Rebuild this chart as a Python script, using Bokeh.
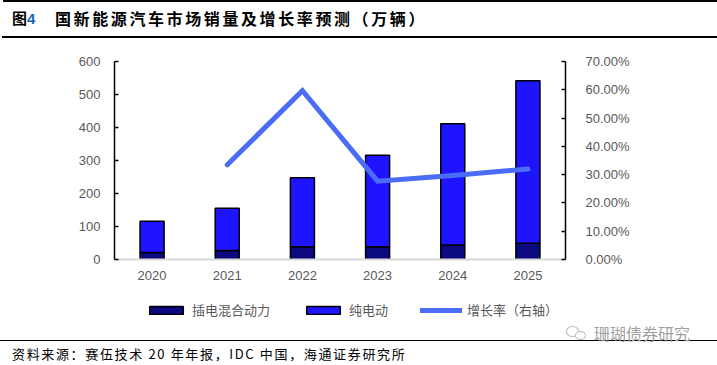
from bokeh.plotting import figure
from bokeh.layouts import column
from bokeh.models import (Range1d, FactorRange, LinearAxis, FixedTicker, NumeralTickFormatter,
                          Legend, LegendItem, ColumnDataSource, Div)
from bokeh.embed import file_html
from bokeh.resources import INLINE

# ---- data ----
years = ["2020", "2021", "2022", "2023", "2024", "2025"]
phev = [21, 27, 39, 39, 44, 49]          # 插电混合动力 (万辆)
bev = [95, 128, 209, 277, 367, 493]      # 纯电动 (万辆)
growth_years = ["2021", "2022", "2023", "2024", "2025"]
growth = [0.335, 0.597, 0.277, 0.297, 0.32]  # 增长率 (右轴)
left_ticks = [0, 100, 200, 300, 400, 500, 600]
right_ticks = [0.0, 0.1, 0.2, 0.3, 0.4, 0.5, 0.6, 0.7]
legend_labels = ["插电混合动力", "纯电动", "增长率（右轴）"]

title_prefix = "图"
title_num = "4"
title_main = "国新能源汽车市场销量及增长率预测（万辆）"
source_text = "资料来源：赛伍技术 20 年年报，IDC 中国，海通证券研究所"
watermark = "珊瑚债券研究"

W = 717
BL, BR = 114, 152          # left / right borders around the plot frame
FW, FH = W - BL - BR, 198  # frame size
CJK = "Noto Sans CJK SC"
LAT = "Liberation Sans"
GRAY = "#595959"
C_PHEV = "#0b0880"
C_BEV = "#1f14ff"
C_LINE = "#4a6cf6"

# ---- header (HTML) ----
header_html = f"""
<div style="position:relative;width:{W}px;height:40px;">
  <div style="position:absolute;left:3px;top:0px;width:{W-3}px;height:1.5px;background:#000;"></div>
  <div style="position:absolute;left:12px;top:8px;font-family:'{CJK}';font-weight:bold;
       font-size:15px;line-height:20px;white-space:nowrap;color:#000;">{title_prefix}<span
       style="font-family:'{LAT}';color:#1f5fbf;">{title_num}</span></div>
  <div style="position:absolute;left:55px;top:8px;font-family:'{CJK}';font-weight:bold;
       font-size:16px;line-height:20px;letter-spacing:2.6px;white-space:nowrap;color:#000;">{title_main}</div>
  <div style="position:absolute;left:2px;top:36px;width:{W-2}px;height:2px;background:#000;"></div>
</div>"""
header = Div(text=header_html, width=W, height=40, margin=(0, 0, 0, 0))

# ---- main chart ----
src = ColumnDataSource(dict(year=years, phev=phev, bev=bev))
p = figure(frame_width=FW, frame_height=FH, output_backend="svg", toolbar_location=None,
           x_range=FactorRange(*years), y_range=Range1d(0, 600),
           min_border_left=BL, min_border_right=BR, min_border_top=21, min_border_bottom=31,
           margin=(0, 0, 0, 0))
p.outline_line_color = None
p.grid.visible = False
p.extra_y_ranges = {"pct": Range1d(0, 0.7)}

p.vbar_stack(["phev", "bev"], x="year", width=0.32, source=src,
             color=[C_PHEV, C_BEV], line_color="black", line_width=1.5)
p.line(x=growth_years, y=growth, y_range_name="pct", line_color=C_LINE,
       line_width=5, line_cap="round", line_join="miter")

ya = p.yaxis[0]
ya.ticker = FixedTicker(ticks=left_ticks)
ya.axis_line_color = "black"
ya.axis_line_width = 1.5
ya.major_tick_in = 4
ya.major_tick_out = 0
ya.major_tick_line_color = "black"
ya.major_tick_line_width = 1.5
ya.minor_tick_line_color = None
ya.major_label_text_font = LAT
ya.major_label_text_font_size = "13px"
ya.major_label_text_color = GRAY
ya.major_label_standoff = 14

ra = LinearAxis(y_range_name="pct", ticker=FixedTicker(ticks=right_ticks),
                formatter=NumeralTickFormatter(format="0.00%"))
ra.axis_line_color = "black"
ra.axis_line_width = 1.5
ra.major_tick_in = 4
ra.major_tick_out = 0
ra.major_tick_line_color = "black"
ra.major_tick_line_width = 1.5
ra.minor_tick_line_color = None
ra.major_label_text_font = LAT
ra.major_label_text_font_size = "13px"
ra.major_label_text_color = GRAY
ra.major_label_standoff = 20
p.add_layout(ra, "right")

xa = p.xaxis[0]
xa.axis_line_color = "#d9d9d9"
xa.axis_line_width = 2
xa.major_tick_line_color = None
xa.minor_tick_line_color = None
xa.major_label_text_font = LAT
xa.major_label_text_font_size = "13px"
xa.major_label_text_color = GRAY
xa.major_label_standoff = 5

# ---- legend strip (same series as hidden renderers, only their legend is shown) ----
lg = figure(frame_width=FW, frame_height=34, output_backend="svg", toolbar_location=None,
            x_range=FactorRange(*years), y_range=Range1d(1000, 1001), x_axis_location=None,
            y_axis_location=None, min_border_left=BL, min_border_right=BR,
            min_border_top=0, min_border_bottom=0, margin=(0, 0, 0, 0))
lg.outline_line_color = None
lg.grid.visible = False
lrs = lg.vbar_stack(["phev", "bev"], x="year", width=0.32, source=src,
                    color=[C_PHEV, C_BEV], line_color="black", line_width=1.5)
lln = lg.line(x=growth_years, y=growth, line_color=C_LINE, line_width=5, line_cap="round")
for r in list(lrs) + [lln]:
    r.visible = False
legend = Legend(items=[LegendItem(label=legend_labels[0], renderers=[lrs[0]]),
                       LegendItem(label=legend_labels[1], renderers=[lrs[1]]),
                       LegendItem(label=legend_labels[2], renderers=[lln])],
                orientation="horizontal", location=(31, 5),
                label_text_font=CJK, label_text_font_size="13px", label_text_color=GRAY,
                glyph_width=42, glyph_height=10, label_standoff=5, spacing=32,
                border_line_color=None, background_fill_alpha=0, padding=0, margin=0,
                inactive_fill_alpha=0)
lg.add_layout(legend, "center")

# ---- footer (HTML) ----
footer_html = f"""
<div style="position:relative;width:{W}px;height:41px;">
  <div style="position:absolute;left:566px;top:2px;width:13px;height:11px;border:1px solid #b8b8b8;
       border-radius:50%;"></div>
  <div style="position:absolute;left:575px;top:7px;width:11px;height:9px;border:1px solid #b8b8b8;
       border-radius:50%;background:#fff;"></div>
  <div style="position:absolute;left:0px;top:15.5px;width:{W}px;height:1.5px;background:#000;"></div>
  <div style="position:absolute;left:594px;top:-1px;font-family:'{CJK}';font-size:16px;
       line-height:20px;white-space:nowrap;color:#a0a0a0;background:transparent;">{watermark}</div>
  <div style="position:absolute;left:12px;top:21px;font-family:'{CJK}';font-size:13px;
       line-height:18px;letter-spacing:1.65px;white-space:nowrap;color:#000;">{source_text}</div>
</div>"""
footer = Div(text=footer_html, width=W, height=41, margin=(0, 0, 0, 0))

layout = column(header, p, lg, footer, spacing=0, margin=(0, 0, 0, 0))
open("out.html", "w").write(file_html(layout, INLINE))
